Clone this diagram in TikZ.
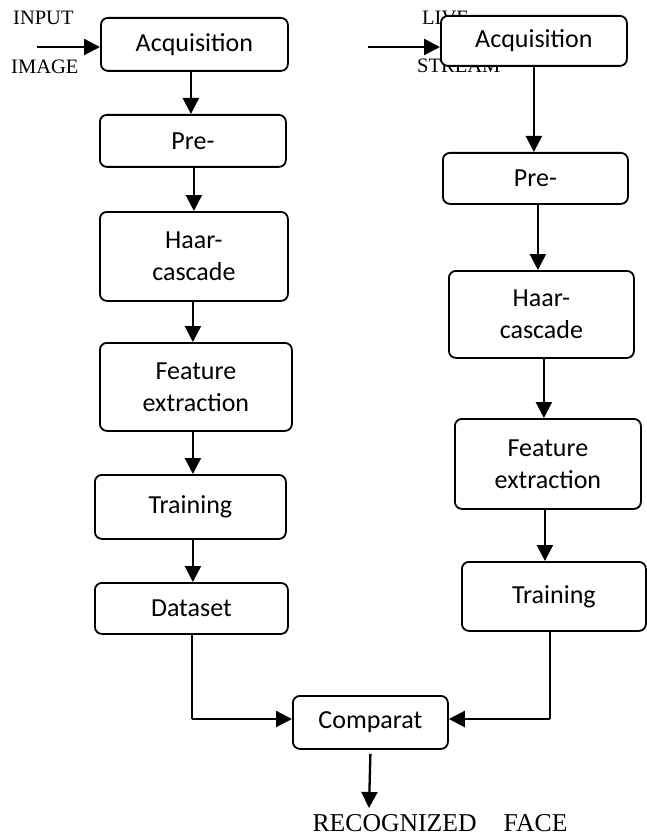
\documentclass[tikz,border=0pt]{standalone}
\usepackage{fontspec}
\setmainfont{Liberation Serif}
\newfontfamily\boxfont{Carlito}
\usetikzlibrary{arrows.meta}
\tikzset{
  flowbox/.style={draw, line width=1.8pt, fill=white, rounded corners=7pt, anchor=north west,
    inner sep=0pt, align=center, font=\boxfont\fontsize{26}{32}\selectfont},
  lbl/.style={anchor=base west, inner sep=0pt, font=\fontsize{20.5}{24}\selectfont},
  arr/.style={line width=2.3pt, -{Triangle[length=16pt,width=16pt]}},
  plain/.style={line width=1.8pt}
}
\begin{document}
\begin{tikzpicture}[x=1pt,y=-1pt]
\useasboundingbox (0,0) rectangle (646,837);
% side labels
\node[lbl] (input) at (13,25) {INPUT};
\node[lbl] (image) at (11,74) {IMAGE};
\node[lbl] (live) at (422,25) {LIVE};
\node[lbl] (stream) at (417,73) {STREAM};
% left column
\node[flowbox, minimum width=187pt, minimum height=53pt] (accL) at (100,17) {Acquisition};
\node[flowbox, minimum width=186pt, minimum height=52pt] (preL) at (99,114) {Pre-};
\node[flowbox, minimum width=188pt, minimum height=89pt] (haarL) at (99,211) {Haar-\\cascade};
\node[flowbox, minimum width=192pt, minimum height=88pt] (featL) at (99,342) {Feature\\extraction};
\node[flowbox, minimum width=191pt, minimum height=64pt] (trainL) at (94,474) {Training};
\node[flowbox, minimum width=193pt, minimum height=51pt] (dataL) at (94,582) {Dataset};
% right column
\node[flowbox, minimum width=186pt, minimum height=50pt] (accR) at (440,15) {Acquisition};
\node[flowbox, minimum width=185pt, minimum height=51pt] (preR) at (442,152) {Pre-};
\node[flowbox, minimum width=185pt, minimum height=87pt] (haarR) at (448,270) {Haar-\\cascade};
\node[flowbox, minimum width=186pt, minimum height=90pt] (featR) at (454,418) {Feature\\extraction};
\node[flowbox, minimum width=184pt, minimum height=69pt] (trainR) at (461,561) {Training};
% comparator
\node[flowbox, minimum width=155pt, minimum height=53pt] (comp) at (292,695) {Comparat};
\node[anchor=base, inner sep=0pt, font=\fontsize{25.7}{30}\selectfont] (face) at (440,831) {RECOGNIZED\hspace{27pt}FACE};
\coordinate (inL) at (37,47);
\coordinate (inR) at (368,47);
\coordinate (outTip) at (369,808);
% input arrows
\draw[arr] (inL) -- (inL -| accL.west);
\draw[arr] (inR) -- (inR -| accR.west);
% left chain
\draw[arr] ([xshift=-3.5pt]accL.south) -- ([xshift=-3.5pt]accL.south |- preL.north);
\draw[arr] ([xshift=1pt]preL.south) -- ([xshift=1pt]preL.south |- haarL.north);
\draw[arr] ([xshift=-1pt]haarL.south) -- ([xshift=-1pt]haarL.south |- featL.north);
\draw[arr] ([xshift=-3pt]featL.south) -- ([xshift=-3pt]featL.south |- trainL.north);
\draw[arr] ([xshift=2.5pt]trainL.south) -- ([xshift=2.5pt]trainL.south |- dataL.north);
% right chain
\draw[arr] (accR.south) -- (accR.south |- preR.north);
\draw[arr] ([xshift=2.5pt]preR.south) -- ([xshift=2.5pt]preR.south |- haarR.north);
\draw[arr] ([xshift=2.5pt]haarR.south) -- ([xshift=2.5pt]haarR.south |- featR.north);
\draw[arr] ([xshift=-3pt]featR.south) -- ([xshift=-3pt]featR.south |- trainR.north);
% to comparator
\draw[plain] ([xshift=0.5pt]dataL.south) -- ([xshift=0.5pt]dataL.south |- 0,719) coordinate (cl);
\draw[arr] (cl) -- (cl -| comp.west);
\draw[plain] ([xshift=-4pt]trainR.south) -- ([xshift=-4pt]trainR.south |- 0,719) coordinate (cr);
\draw[arr] (cr) -- (cr -| comp.east);
% output
\draw[arr] ([yshift=-4pt]comp.south) -- (outTip);
\end{tikzpicture}
\end{document}
